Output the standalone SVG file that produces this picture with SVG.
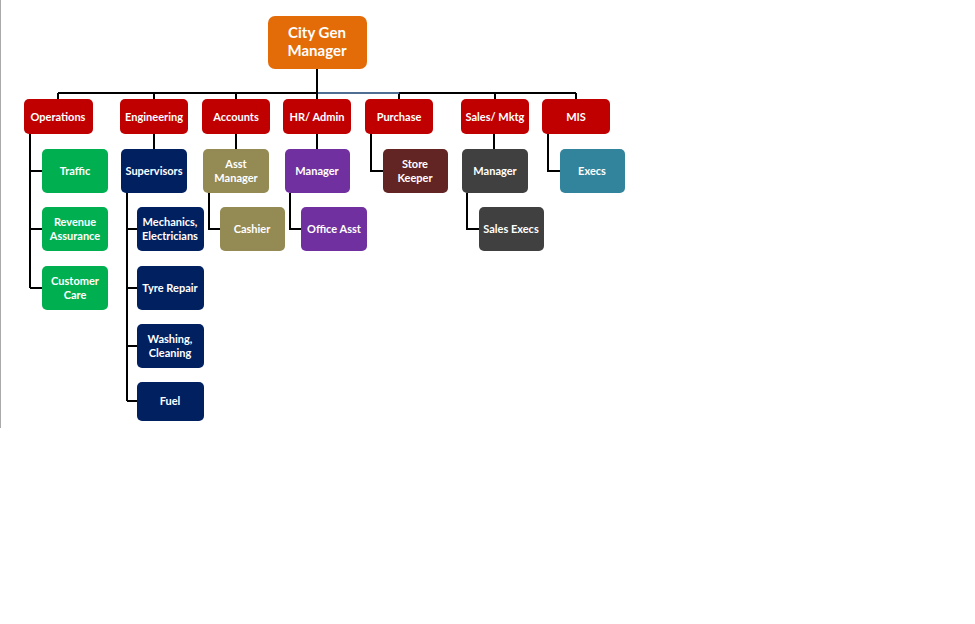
<svg xmlns="http://www.w3.org/2000/svg" width="975" height="624" viewBox="0 0 975 624">
<style>
text{font-family:Lato,"Liberation Sans",sans-serif;font-weight:bold;fill:#fff;font-size:11px;text-anchor:middle}
text.big{font-size:15px}
.c path{fill:none;stroke:#000;stroke-width:2}
.r{fill:#c00000}.g{fill:#00b050}.n{fill:#002060}.o{fill:#948a54}.p{fill:#7030a0}.b{fill:#632523}.d{fill:#404040}.t{fill:#31849b}
</style>
<rect width="975" height="624" fill="#fff"/>
<line x1="0.5" y1="0" x2="0.5" y2="428" stroke="#aaa"/>
<g class="c">
<path d="M317 69V93M58 93H576M58 93V99M154 93V99M236 93V99M317 93V99M399 93V99M495 93V99M576 93V99"/>
<path d="M318 93H399" style="stroke:#4f6e93"/>
<path d="M30 134V288M30 171H42M30 229H42M30 288H42"/>
<path d="M154 134V149M127 193V401M127 229H137M127 288H137M127 346H137M127 401H137"/>
<path d="M236 134V149M209 193V229H220"/>
<path d="M317 134V149M290 193V229H301"/>
<path d="M371 134V171H383"/>
<path d="M494 134V149M467 193V229H479"/>
<path d="M548 134V171H560"/>
</g>
<g id="gm"><rect x="268" y="16" width="99" height="53" rx="7" fill="#e36c09"/><text class="big" x="317" y="38">City Gen</text><text class="big" x="317" y="56">Manager</text></g>
<g id="ops"><rect class="r" x="24" y="99" width="69" height="35" rx="5"/><text x="58" y="121">Operations</text></g>
<g id="eng"><rect class="r" x="120" y="99" width="68" height="35" rx="5"/><text x="154" y="121">Engineering</text></g>
<g id="acc"><rect class="r" x="202" y="99" width="68" height="35" rx="5"/><text x="236" y="121">Accounts</text></g>
<g id="hr"><rect class="r" x="283" y="99" width="68" height="35" rx="5"/><text x="317" y="121">HR/ Admin</text></g>
<g id="pur"><rect class="r" x="365" y="99" width="68" height="35" rx="5"/><text x="399" y="121">Purchase</text></g>
<g id="sal"><rect class="r" x="461" y="99" width="68" height="35" rx="5"/><text x="495" y="121">Sales/ Mktg</text></g>
<g id="mis"><rect class="r" x="542" y="99" width="68" height="35" rx="5"/><text x="576" y="121">MIS</text></g>
<g id="traffic"><rect class="g" x="42" y="149" width="66" height="44" rx="5"/><text x="75" y="175">Traffic</text></g>
<g id="rev"><rect class="g" x="42" y="207" width="66" height="44" rx="5"/><text x="75" y="226">Revenue</text><text x="75" y="240">Assurance</text></g>
<g id="cc"><rect class="g" x="42" y="266" width="66" height="44" rx="5"/><text x="75" y="285">Customer</text><text x="75" y="299">Care</text></g>
<g id="sup"><rect class="n" x="121" y="149" width="66" height="44" rx="5"/><text x="154" y="175">Supervisors</text></g>
<g id="mech"><rect class="n" x="137" y="207" width="67" height="44" rx="5"/><text x="170" y="226">Mechanics,</text><text x="170" y="240">Electricians</text></g>
<g id="tyre"><rect class="n" x="137" y="266" width="67" height="44" rx="5"/><text x="170" y="292">Tyre  Repair</text></g>
<g id="wash"><rect class="n" x="137" y="324" width="67" height="44" rx="5"/><text x="170" y="343">Washing,</text><text x="170" y="357">Cleaning</text></g>
<g id="fuel"><rect class="n" x="137" y="382" width="67" height="39" rx="5"/><text x="170" y="405">Fuel</text></g>
<g id="asst"><rect class="o" x="203" y="149" width="66" height="44" rx="5"/><text x="236" y="168">Asst</text><text x="236" y="182">Manager</text></g>
<g id="cash"><rect class="o" x="220" y="207" width="65" height="44" rx="5"/><text x="252" y="233">Cashier</text></g>
<g id="hrm"><rect class="p" x="285" y="149" width="65" height="44" rx="5"/><text x="317" y="175">Manager</text></g>
<g id="oa"><rect class="p" x="301" y="207" width="66" height="44" rx="5"/><text x="334" y="233">Office Asst</text></g>
<g id="sk"><rect class="b" x="383" y="149" width="65" height="44" rx="5"/><text x="415" y="168">Store</text><text x="415" y="182">Keeper</text></g>
<g id="sm"><rect class="d" x="462" y="149" width="66" height="44" rx="5"/><text x="495" y="175">Manager</text></g>
<g id="se"><rect class="d" x="479" y="207" width="65" height="44" rx="5"/><text x="511" y="233">Sales Execs</text></g>
<g id="ex"><rect class="t" x="560" y="149" width="65" height="44" rx="5"/><text x="592" y="175">Execs</text></g>
</svg>
